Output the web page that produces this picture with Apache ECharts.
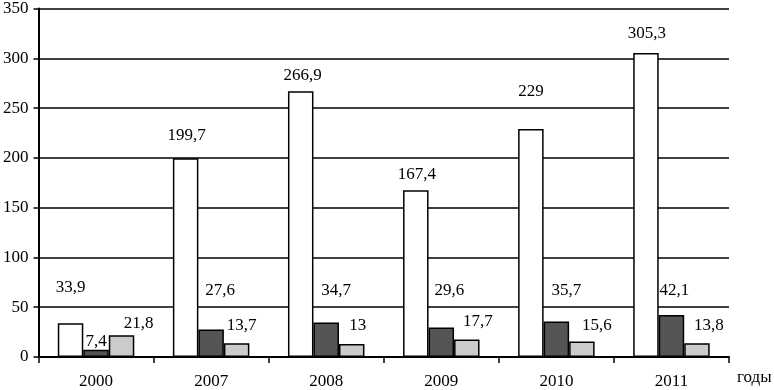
<!DOCTYPE html>
<html>
<head>
<meta charset="utf-8">
<script src="https://cdn.jsdelivr.net/npm/echarts@6/dist/echarts.min.js"></script>
<style>html,body{margin:0;padding:0;background:#fff;}#c{width:774px;height:390px;}</style>
</head>
<body>
<div id="c"></div>
<script>
// ---- data ----
var categories = ['2000', '2007', '2008', '2009', '2010', '2011'];
var seriesWhite = [33.9, 199.7, 266.9, 167.4, 229, 305.3];
var seriesDark = [7.4, 27.6, 34.7, 29.6, 35.7, 42.1];
var seriesLight = [21.8, 13.7, 13, 17.7, 15.6, 13.8];
var yTicks = [0, 50, 100, 150, 200, 250, 300, 350];
var xAxisTitle = 'годы';

// ---- label styling (offsets in px, not data) ----
var offWhite = [[0, -22], [1, -9], [2, -2], [1, -2], [0, -24], [1, -6]];
var offDark = [[0, 5], [9, -25], [10, -18], [8, -23], [10, -17], [3, -11]];
var offLight = [[17, 2], [5, -4], [6, -5], [11, -4], [15, -2], [12, -4]];

function fmt(v) { return String(v).replace('.', ','); }
function build(vals, offs) {
  return vals.map(function (v, i) {
    return { value: v, label: { offset: offs[i] } };
  });
}
var FONT = 'Liberation Serif';
var labelBase = {
  show: true, position: 'top', distance: 5,
  fontFamily: FONT, fontSize: 17, color: '#000',
  formatter: function (p) { return fmt(p.value); }
};

var chart = echarts.init(document.getElementById('c'), null, { renderer: 'canvas' });
chart.setOption({
  animation: false,
  backgroundColor: '#fff',
  grid: { left: 34, right: 45, top: 5, bottom: 29 },
  xAxis: {
    type: 'category',
    data: categories,
    axisLine: { lineStyle: { color: '#000', width: 2 } },
    axisTick: { show: true, length: 6, lineStyle: { color: '#000', width: 1.5 } },
    axisLabel: { fontFamily: FONT, fontSize: 17, color: '#000', margin: 16 }
  },
  yAxis: {
    type: 'value',
    min: yTicks[0], max: yTicks[yTicks.length - 1], interval: 50,
    axisLine: { show: true, lineStyle: { color: '#000', width: 2 } },
    axisTick: { show: true, length: 5, lineStyle: { color: '#000', width: 1.5 } },
    axisLabel: { fontFamily: FONT, fontSize: 17, color: '#000', margin: 10 },
    splitLine: { show: true, lineStyle: { color: '#000', width: 1.5 } }
  },
  series: [
    { type: 'bar', data: build(seriesWhite, offWhite), barWidth: 25.5, barGap: '0%',
      itemStyle: { color: '#fff', borderColor: '#000', borderWidth: 1.5 }, label: labelBase },
    { type: 'bar', data: build(seriesDark, offDark), barWidth: 25.5, barGap: '0%',
      itemStyle: { color: '#555', borderColor: '#000', borderWidth: 1.5 }, label: labelBase },
    { type: 'bar', data: build(seriesLight, offLight), barWidth: 25.5, barGap: '0%',
      itemStyle: { color: '#cbcbcb', borderColor: '#000', borderWidth: 1.5 }, label: labelBase }
  ],
  graphic: [{
    type: 'text', left: 737, top: 369,
    style: { text: xAxisTitle, font: '17px "Liberation Serif"', fill: '#000' }
  }]
});
</script>
</body>
</html>
